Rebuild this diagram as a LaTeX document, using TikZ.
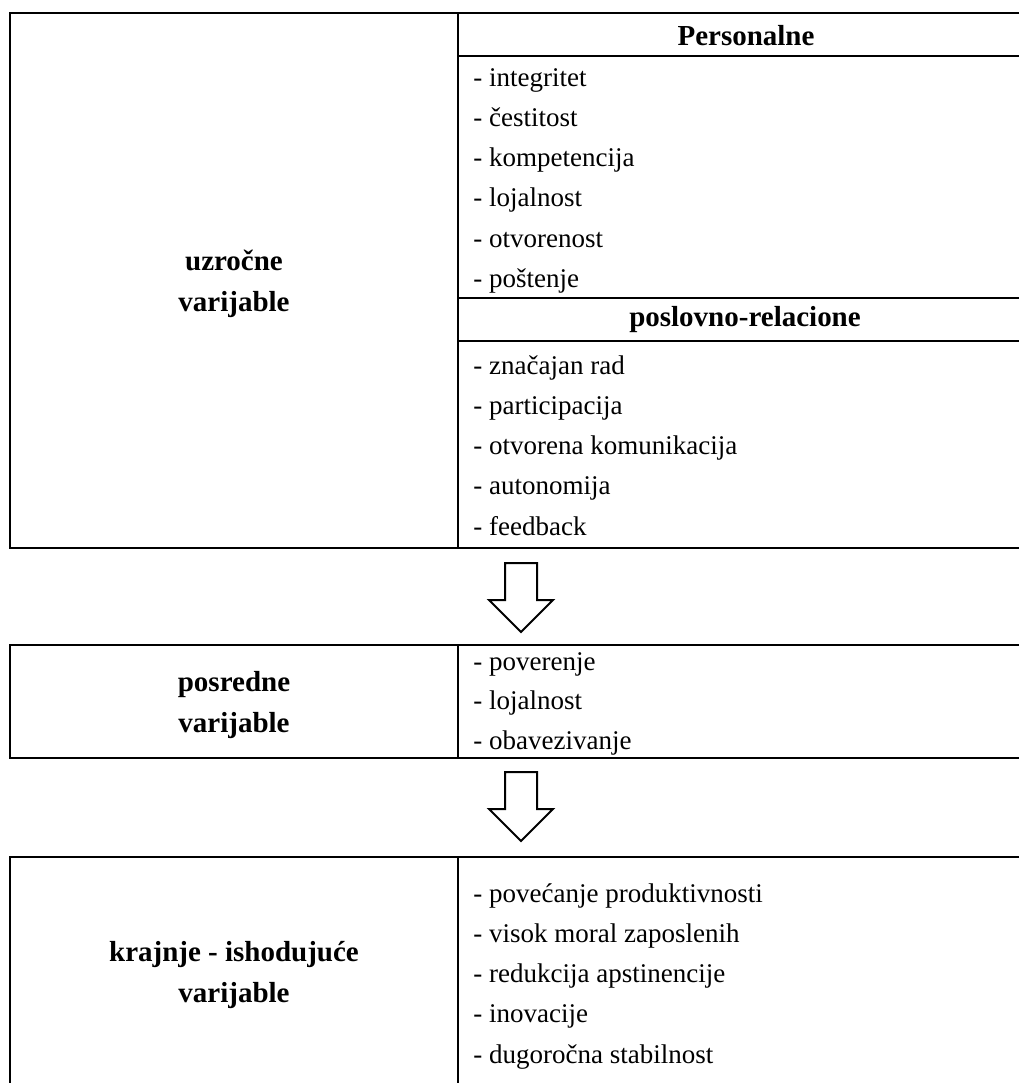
\documentclass[tikz,border=0pt]{standalone}
\usepackage{fontspec}
\setmainfont{Liberation Serif}
\usepackage{tikz}
\usetikzlibrary{
    positioning
}

\begin{document}
\begin{tikzpicture}[
    x=0.5pt, y=-0.5pt,
    frame/.style={
        line width=1pt,
        draw=black
    },
    rule/.style={
        line width=0.8pt,
        draw=black
    },
    item/.style={
        font=\fontsize{13.5pt}{16pt}\selectfont,
        inner sep=0pt,
        text height=10pt,
        text depth=3pt,
        anchor=north west
    },
    firstitem/.style={
        item,
        anchor=base west
    },
    header/.style={
        font=\fontsize{14.5pt}{17pt}\selectfont\bfseries,
        inner sep=0pt,
        anchor=base
    },
    varlabel/.style={
        font=\fontsize{14.5pt}{20.5pt}\selectfont\bfseries,
        align=center,
        inner sep=0pt
    },
    hollowarrow/.style={
        line width=1pt,
        draw=black,
        fill=white,
        line join=miter
    }
]
\useasboundingbox (0,0) rectangle (1019,1083);

% upper block
\draw[frame] (1019,13) -- (10,13) -- (10,548) -- (1019,548);
\draw[frame] (458,13) -- (458,548);
\draw[rule] (458,56) -- (1019,56);
\draw[rule] (458,298) -- (1019,298);
\draw[rule] (458,341) -- (1019,341);

\node[varlabel] (causal) at (234,284) {uzročne\\varijable};

\node[header] (personal) at (746,45) {Personalne};
\node[firstitem] (p1) at (473,86) {- integritet};
\node[below=6.75pt of p1.south west, item] (p2) {- čestitost};
\node[below=6.75pt of p2.south west, item] (p3) {- kompetencija};
\node[below=6.75pt of p3.south west, item] (p4) {- lojalnost};
\node[below=6.75pt of p4.south west, item] (p5) {- otvorenost};
\node[below=6.75pt of p5.south west, item] (p6) {- poštenje};

\node[header] (business) at (745,326) {poslovno-relacione};
\node[firstitem] (b1) at (473,374) {- značajan rad};
\node[below=6.75pt of b1.south west, item] (b2) {- participacija};
\node[below=6.75pt of b2.south west, item] (b3) {- otvorena komunikacija};
\node[below=6.75pt of b3.south west, item] (b4) {- autonomija};
\node[below=6.75pt of b4.south west, item] (b5) {- feedback};

% arrow to middle block
\coordinate (arrowA) at (521,563);
\draw[hollowarrow] (arrowA) -- ++(-16,0) -- ++(0,37) -- ++(-16,0)
    -- ++(32,32) -- ++(32,-32) -- ++(-16,0) -- ++(0,-37) -- cycle;

% middle block
\draw[frame] (1019,645) -- (10,645) -- (10,758) -- (1019,758);
\draw[frame] (458,645) -- (458,758);

\node[varlabel] (mediating) at (234,705) {posredne\\varijable};
\node[firstitem] (m1) at (473,670) {- poverenje};
\node[below=6.5pt of m1.south west, item] (m2) {- lojalnost};
\node[below=6.5pt of m2.south west, item] (m3) {- obavezivanje};

% arrow to lower block
\coordinate (arrowB) at (521,772);
\draw[hollowarrow] (arrowB) -- ++(-16,0) -- ++(0,37) -- ++(-16,0)
    -- ++(32,32) -- ++(32,-32) -- ++(-16,0) -- ++(0,-37) -- cycle;

% lower block
\draw[frame] (1019,857) -- (10,857) -- (10,1083);
\draw[frame] (458,857) -- (458,1083);

\node[varlabel] (outcome) at (234,975) {krajnje - ishodujuće\\varijable};
\node[firstitem] (o1) at (473,902) {- povećanje produktivnosti};
\node[below=6.75pt of o1.south west, item] (o2) {- visok moral zaposlenih};
\node[below=6.75pt of o2.south west, item] (o3) {- redukcija apstinencije};
\node[below=6.75pt of o3.south west, item] (o4) {- inovacije};
\node[below=6.75pt of o4.south west, item] (o5) {- dugoročna stabilnost};

\end{tikzpicture}
\end{document}
